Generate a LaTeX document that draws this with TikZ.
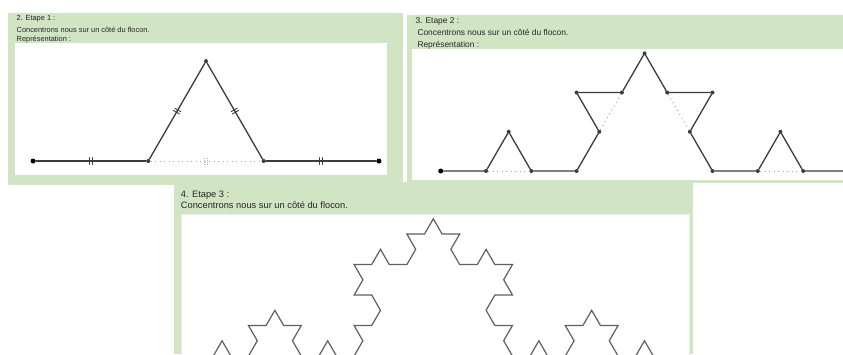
\documentclass[tikz,border=0pt]{standalone}
\usepackage{fontspec}
\setmainfont{Liberation Sans}
\usetikzlibrary{decorations.fractals,decorations.markings}
\definecolor{panelgreen}{RGB}{209,228,196}
\definecolor{inkgray}{RGB}{60,60,60}
\tikzset{
  panel/.style={fill=panelgreen},
  sheet/.style={fill=white},
  caption/.style={anchor=base west, inner sep=0pt, text=black!85},
  edge/.style={draw=inkgray, line width=1.3pt, line cap=round},
  hidden/.style={draw=gray!70, line width=1pt, dash pattern=on 1pt off 3.5pt},
  vertex/.style={circle, fill=inkgray, inner sep=0pt, minimum size=4pt},
  endvertex/.style={circle, fill=black, inner sep=0pt, minimum size=5pt},
  ticks/.style={postaction={decorate, decoration={markings, mark=at position 0.5 with {\draw[#1] (-1.3pt,-3.5pt) -- (-1.3pt,3.5pt) (1.3pt,-3.5pt) -- (1.3pt,3.5pt);}}}},
  ticks/.default={inkgray, line width=0.9pt},
  koch/.style={draw=gray!75!black, line width=1.2pt, decoration=Koch snowflake}
}

\begin{document}
\begin{tikzpicture}[x=1pt, y=-1pt]
  \useasboundingbox (0,0) rectangle (843,354);
  % panels
  \fill[panel] (8,13) rectangle (403,185);
  \fill[panel] (407,15) rectangle (843,183);
  \fill[panel] (174,182) rectangle (693,354);
  \fill[sheet] (15,43) rectangle (387,175);
  \fill[sheet] (412,49) rectangle (843,180);
  \filldraw[sheet, draw=gray!15, line width=1pt] (181,214) rectangle (689,360);

  % Etape 1
  \node[caption, font=\fontsize{7.4}{9}\selectfont] (titleA) at (16.5,20.5) {2. Etape 1 :};
  \node[caption, font=\fontsize{7.4}{9}\selectfont] (sideA) at (16.5,32) {Concentrons nous sur un côté du flocon.};
  \node[caption, font=\fontsize{7.4}{9}\selectfont] (reprA) at (16.5,41.5) {Représentation :};
  \begin{scope}[shift={(33,161)}, x=115.33pt, y=115.33pt]
    \node[endvertex] (a0) at (0,0) {};
    \node[vertex] (a1) at (1,0) {};
    \node[vertex] (a2) at (1.5,0.866) {};
    \node[vertex] (a3) at (2,0) {};
    \node[endvertex] (a4) at (3,0) {};
  \end{scope}
  \draw[hidden, ticks={gray!60, line width=0.7pt, dash pattern=on 0.8pt off 1.2pt}] (a1) -- (a3);
  \draw[edge, ticks] (a0) -- (a1);
  \draw[edge, ticks] (a1) -- (a2);
  \draw[edge, ticks] (a2) -- (a3);
  \draw[edge, ticks] (a3) -- (a4);

  % Etape 2
  \node[caption, font=\fontsize{8.4}{10}\selectfont] (titleB) at (415.3,23.5) {3. Etape 2 :};
  \node[caption, font=\fontsize{8.4}{10}\selectfont] (sideB) at (417.3,35.5) {Concentrons nous sur un côté du flocon.};
  \node[caption, font=\fontsize{8.4}{10}\selectfont] (reprB) at (417.3,47) {Représentation :};
  \begin{scope}[shift={(440.7,171)}, x=45.3pt, y=45.3pt]
    \node[endvertex] (b0) at (0,0) {};
    \node[vertex] (b1) at (1,0) {};
    \node[vertex] (b2) at (1.5,0.866) {};
    \node[vertex] (b3) at (2,0) {};
    \node[vertex] (b4) at (3,0) {};
    \node[vertex] (b5) at (3.5,0.866) {};
    \node[vertex] (b6) at (3,1.732) {};
    \node[vertex] (b7) at (4,1.732) {};
    \node[vertex] (b8) at (4.5,2.598) {};
    \node[vertex] (b9) at (5,1.732) {};
    \node[vertex] (b10) at (6,1.732) {};
    \node[vertex] (b11) at (5.5,0.866) {};
    \node[vertex] (b12) at (6,0) {};
    \node[vertex] (b13) at (7,0) {};
    \node[vertex] (b14) at (7.5,0.866) {};
    \node[vertex] (b15) at (8,0) {};
    \node[vertex] (b16) at (9,0) {};
  \end{scope}
  \draw[hidden] (b1) -- (b3);
  \draw[hidden] (b5) -- (b7);
  \draw[hidden] (b9) -- (b11);
  \draw[hidden] (b13) -- (b15);
  \draw[edge] (b0) -- (b1) -- (b2) -- (b3) -- (b4) -- (b5) -- (b6) -- (b7) -- (b8)
    -- (b9) -- (b10) -- (b11) -- (b12) -- (b13) -- (b14) -- (b15) -- (b16);

  % Etape 3
  \node[caption, font=\fontsize{9.3}{11}\selectfont] (titleC) at (180.7,197.5) {4. Etape 3 :};
  \node[caption, font=\fontsize{9.3}{11}\selectfont] (sideC) at (180.7,208.5) {Concentrons nous sur un côté du flocon.};
  \begin{scope}[shift={(195.7,356)}, x=17.6pt, y=17.6pt]
    \draw[koch] decorate{decorate{decorate{(0,0) -- (27,0)}}};
  \end{scope}
\end{tikzpicture}
\end{document}
